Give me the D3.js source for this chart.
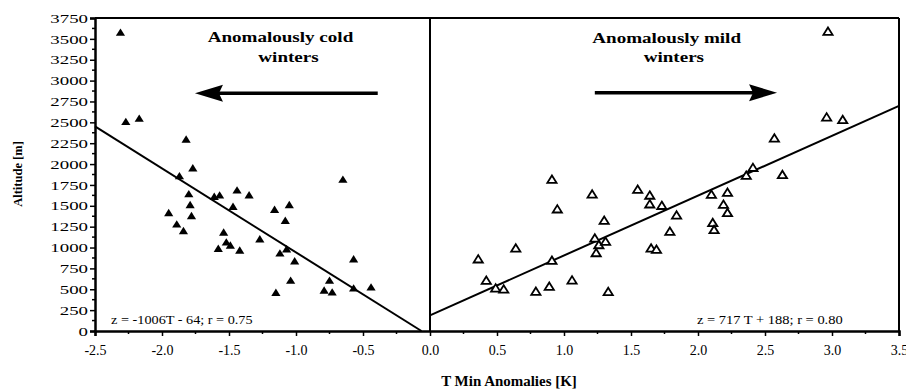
<!DOCTYPE html>
<html>
<head>
<meta charset="utf-8">
<script src="https://cdn.jsdelivr.net/npm/d3@7"></script>
<style>
  body { margin: 0; background: #fff; }
  svg text { font-family: "Liberation Serif", "DejaVu Serif", "Times New Roman", serif !important; }
</style>
</head>
<body>
<svg width="906" height="389"></svg>
<script>
// cold winters (filled triangles): T anomaly [K], altitude [m]
var coldT = [-2.31, -2.27, -2.17, -1.82, -1.87, -1.77, -1.44, -1.35, -1.80, -1.79,
             -1.78, -1.95, -1.89, -1.84, -1.61, -1.57, -1.47, -1.54, -1.58, -1.52,
             -1.49, -1.42, -1.27, -1.16, -1.05, -1.08, -1.12, -1.07, -1.01, -1.04,
             -1.15, -0.65, -0.57, -0.75, -0.79, -0.73, -0.57, -0.44];
var coldZ = [3575, 2505, 2545, 2295, 1855, 1950, 1685, 1627, 1640, 1510,
             1378, 1413, 1278, 1198, 1609, 1625, 1489, 1180, 985, 1062,
             1025, 965, 1100, 1452, 1510, 1320, 930, 980, 835, 603,
             459, 1813, 859, 603, 485, 463, 511, 523];

// mild winters (open triangles)
var mildT = [0.91, 1.21, 0.95, 1.30, 1.23, 1.26, 1.24, 1.31, 0.64, 0.36,
             0.91, 0.42, 0.49, 0.55, 0.79, 0.89, 1.06, 1.33, 2.97, 2.96,
             3.08, 2.57, 2.63, 2.36, 2.41, 1.55, 1.64, 2.10, 2.22, 1.64,
             1.73, 1.84, 1.79, 1.65, 1.69, 2.19, 2.22, 2.11, 2.12];
var mildZ = [1813, 1636, 1458, 1322, 1110, 1030, 934, 1070, 990, 859,
             842, 603, 511, 499, 471, 531, 607, 468, 3586, 2560,
             2528, 2308, 1869, 1861, 1955, 1693, 1623, 1634, 1657, 1518,
             1500, 1385, 1190, 990, 975, 1514, 1414, 1294, 1210];

// regression fits: z = a*T + b
var coldFit = {a: -1006, b: -64, label: "z = -1006T - 64; r = 0.75"};
var mildFit = {a: 717, b: 188, label: "z = 717 T + 188; r = 0.80"};

var xTicks = [-2.5, -2.0, -1.5, -1.0, -0.5, 0.0, 0.5, 1.0, 1.5, 2.0, 2.5, 3.0, 3.5];
var yTicks = d3.range(0, 3751, 250);

var margin = {top: 18, right: 7, bottom: 58, left: 95},
    width = 906 - margin.left - margin.right,
    height = 389 - margin.top - margin.bottom;

var x = d3.scaleLinear().domain([-2.5, 3.5]).range([0, width]);
var y = d3.scaleLinear().domain([0, 3750]).range([height, 0]);

var svg = d3.select("svg");
var g = svg.append("g").attr("transform", "translate(" + margin.left + "," + margin.top + ")");

// frame: top, right, zero line
g.append("line").attr("x1", 0).attr("x2", width).attr("y1", 0).attr("y2", 0)
    .attr("stroke", "#000").attr("stroke-width", 2);
g.append("line").attr("x1", width).attr("x2", width).attr("y1", 0).attr("y2", height)
    .attr("stroke", "#000").attr("stroke-width", 2);
g.append("line").attr("x1", x(0)).attr("x2", x(0)).attr("y1", 0).attr("y2", height)
    .attr("stroke", "#000").attr("stroke-width", 2);

// x axis
var xAxis = d3.axisBottom(x).tickValues(xTicks).tickSize(5).tickPadding(9)
    .tickFormat(function(d) { return d3.format(".1f")(d).replace("\u2212", "-"); });
var gX = g.append("g").attr("transform", "translate(0," + height + ")").call(xAxis);
gX.selectAll(".tick text").attr("font-size", 14);
g.append("g").attr("transform", "translate(0," + height + ")")
    .selectAll("line").data(d3.range(-2.25, 3.5, 0.5)).join("line")
    .attr("x1", function(d) { return x(d); }).attr("x2", function(d) { return x(d); })
    .attr("y1", 0).attr("y2", 3).attr("stroke", "#000").attr("stroke-width", 1.5);

// y axis
var yAxis = d3.axisLeft(y).tickValues(yTicks).tickFormat(d3.format("d")).tickSize(5).tickPadding(6);
var gY = g.append("g").call(yAxis);
gY.selectAll(".tick text").attr("font-size", 13)
    .attr("transform", "translate(-7,0) scale(1.45,1)").attr("x", 0).attr("text-anchor", "end");
g.append("g").selectAll("line").data(d3.range(125, 3750, 250)).join("line")
    .attr("x1", 0).attr("x2", -3)
    .attr("y1", function(d) { return y(d); }).attr("y2", function(d) { return y(d); })
    .attr("stroke", "#000").attr("stroke-width", 1.5);

[gX, gY].forEach(function(a) {
  a.select(".domain").attr("stroke-width", 2.5);
  a.selectAll(".tick line").attr("stroke-width", 1.5);
});

// axis titles
svg.append("text").attr("transform", "translate(509,386) scale(1.07,1)").attr("text-anchor", "middle")
    .attr("font-weight", "bold").attr("font-size", 14).text("T Min Anomalies [K]");
svg.append("text").attr("transform", "translate(22,174) rotate(-90)").attr("text-anchor", "middle")
    .attr("font-weight", "bold").attr("font-size", 12.5).text("Altitude [m]");

// regression lines
g.append("line")
    .attr("x1", x(-2.5)).attr("y1", y(coldFit.a * -2.5 + coldFit.b))
    .attr("x2", x(-coldFit.b / coldFit.a)).attr("y2", y(0))
    .attr("stroke", "#000").attr("stroke-width", 2);
g.append("line")
    .attr("x1", x(0)).attr("y1", y(mildFit.b))
    .attr("x2", x(3.5)).attr("y2", y(mildFit.a * 3.5 + mildFit.b))
    .attr("stroke", "#000").attr("stroke-width", 2);

// triangles
function tri(cx, cy) {
  return "M" + cx + "," + (cy - 4.2) + "L" + (cx + 4.6) + "," + (cy + 3.2) + "L" + (cx - 4.6) + "," + (cy + 3.2) + "Z";
}
g.append("g").selectAll("path").data(d3.range(coldT.length)).join("path")
    .attr("d", function(i) { return tri(x(coldT[i]), y(coldZ[i])); })
    .attr("fill", "#000");
g.append("g").selectAll("path").data(d3.range(mildT.length)).join("path")
    .attr("d", function(i) { return tri(x(mildT[i]), y(mildZ[i])); })
    .attr("fill", "#fff").attr("stroke", "#000").attr("stroke-width", 1.8).attr("stroke-linejoin", "miter");

// equations
g.append("text").attr("transform", "translate(" + x(-2.38) + "," + y(84) + ") scale(1.14,1)")
    .attr("font-size", 12.5).text(coldFit.label);
g.append("text").attr("transform", "translate(" + x(3.08) + "," + y(84) + ") scale(1.16,1)")
    .attr("text-anchor", "end").attr("font-size", 12.5).text(mildFit.label);

// annotations
function note(t, z, s) {
  g.append("text").attr("transform", "translate(" + x(t) + "," + y(z) + ") scale(1.23,1)")
      .attr("text-anchor", "middle")
      .attr("font-weight", "bold").attr("font-size", 15.5).text(s);
}
note(-1.116, 3466, "Anomalously cold");
note(-1.056, 3226, "winters");
note(1.766, 3450, "Anomalously mild");
note(1.82, 3226, "winters");

function arrow(t0, t1, z) {
  var dir = t1 > t0 ? 1 : -1, x0 = x(t0), x1 = x(t1), yy = y(z);
  g.append("line").attr("x1", x0).attr("x2", x1 - dir * 20).attr("y1", yy).attr("y2", yy)
      .attr("stroke", "#000").attr("stroke-width", 3.5);
  g.append("path")
      .attr("d", "M" + x1 + "," + yy + "L" + (x1 - dir * 28) + "," + (yy - 8.5) + "L" + (x1 - dir * 24) + "," + yy +
                 "L" + (x1 - dir * 28) + "," + (yy + 8.5) + "Z")
      .attr("fill", "#000");
}
arrow(-0.39, -1.754, 2848);
arrow(1.23, 2.59, 2855);
</script>
</body>
</html>
